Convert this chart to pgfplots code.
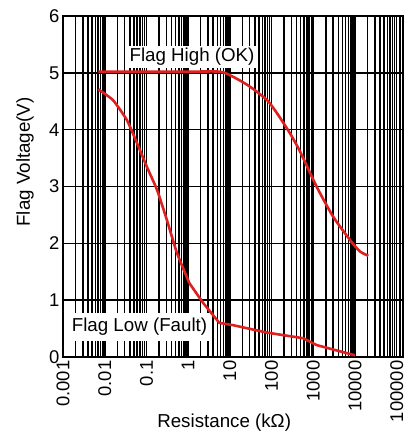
\documentclass[border=0pt]{standalone}
\usepackage{fontspec}
\setmainfont{Liberation Sans}
\usepackage{pgfplots}
\pgfplotsset{compat=1.18}
\definecolor{curvered}{RGB}{222,32,32}
\begin{document}
\begin{tikzpicture}
\begin{axis}[
  name=ax,
  scale only axis,
  width=340bp, height=341bp,
  xmode=log,
  xmin=0.001, xmax=1.42e5,
  ymin=0, ymax=6,
  ytick={0,1,2,3,4,5,6},
  xtick={0.001,0.01,0.1,1,10,100,1000,10000,100000},
  xticklabels={0.001,0.01,0.1,1,10,100,1000,10000,100000},
  minor xtick={0.002,0.003,0.004,0.005,0.006,0.007,0.008,0.009,
    0.02,0.03,0.04,0.05,0.06,0.07,0.08,0.09,
    0.2,0.3,0.4,0.5,0.6,0.7,0.8,0.9,
    2,3,4,5,6,7,8,9,
    20,30,40,50,60,70,80,90,
    200,300,400,500,600,700,800,900,
    2000,3000,4000,5000,6000,7000,8000,9000,
    20000,30000,40000,50000,60000,70000,80000,90000,
    120000,140000},
  xmajorgrids, xminorgrids, ymajorgrids,
  major grid style={black, line width=1.6bp},
  minor grid style={black, line width=1.5bp},
  major tick length=0pt, minor tick length=0pt,
  axis line style={black, line width=1.2bp},
  tick label style={font=\fontsize{18.5}{21}\selectfont},
  /pgf/number format/assume math mode=true,
  xticklabel style={rotate=90, anchor=east},
  label style={font=\fontsize{18.8}{21}\selectfont},
  xlabel={Resistance (kΩ)},
  ylabel={Flag Voltage(V)},
  xlabel style={at={(axis description cs:0.474,0)}, anchor=center, yshift=-66bp},
  ylabel style={at={(axis description cs:-0.112,0.572)}, anchor=center},
  clip=false,
]
\addplot[curvered, line width=2.6bp, smooth, tension=0.4] coordinates {
  (0.00703,5.02) (0.05,5.02) (1,5.02) (5.8,5.02) (12,4.93) (30,4.76) (78,4.52)
  (135,4.29) (275,3.94) (480,3.62) (1200,3.0) (3000,2.47) (7600,2.06)
  (13000,1.86) (21000,1.78)
};
\addplot[curvered, line width=2.6bp, smooth, tension=0.3] coordinates {
  (0.00703,4.71) (0.0158,4.52) (0.034,4.17) (0.059,3.77) (0.102,3.35)
  (0.18,2.94) (0.31,2.41) (0.54,1.83) (1.07,1.30)
};
\addplot[curvered, line width=2.6bp] coordinates {
  (1.07,1.30) (2.3,0.95) (5.6,0.60) (12,0.56) (77,0.43) (575,0.33)
  (1200,0.21) (10000,0.03)
};
\node[fill=white, inner xsep=3bp, inner ysep=2bp, font=\fontsize{18.8}{21}\selectfont] at (axis cs:1.24,5.28) {Flag High (OK)};
\node[fill=white, inner xsep=3bp, inner ysep=5bp, font=\fontsize{18.8}{21}\selectfont] at (axis cs:0.0684,0.53) {Flag Low (Fault)};
\end{axis}
\pgfresetboundingbox
\useasboundingbox ([shift={(-63bp,-77bp)}]ax.south west) rectangle ([shift={(5bp,16bp)}]ax.north east);
\end{tikzpicture}
\end{document}
